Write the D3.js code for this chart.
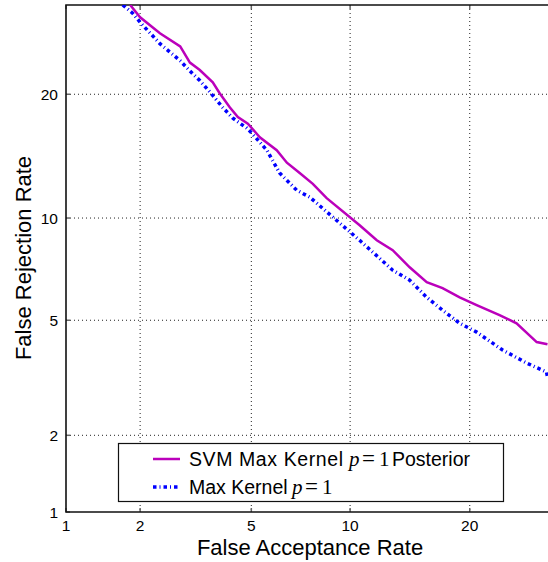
<html>
<head>
<script src="https://d3js.org/d3.v7.min.js"></script>
<style>
  body { margin: 0; padding: 0; background: #fff; }
  svg { display: block; font-family: "Liberation Sans", Arial, sans-serif; }
</style>
</head>
<body>
<div id="chart"></div>
<script>
// DET curve, both axes in percent on a normal-deviate scale
const ticks = [1, 2, 5, 10, 20];
const tickLabels = ["1", "2", "5", "10", "20"];

// SVM Max Kernel p=1 Posterior
const farSvm = [1.83, 2.0, 2.38, 2.83, 3.07, 3.33, 3.70, 3.91, 4.24, 4.51, 4.87, 5.33, 6.04, 6.50, 7.12, 7.80, 8.57, 10.63, 11.83, 13.03, 14.40, 15.87, 17.32, 18.98, 20.72, 23.21, 25.16, 27.58, 28.92];
const frrSvm = [30.0, 28.5, 26.6, 25.1, 23.3, 22.5, 21.2, 20.1, 18.7, 17.8, 17.2, 16.0, 14.9, 13.9, 13.1, 12.3, 11.3, 9.56, 8.68, 8.14, 7.26, 6.56, 6.29, 5.90, 5.58, 5.19, 4.89, 4.25, 4.18];

// Max Kernel p=1
const farMk = [1.71, 1.87, 2.0, 2.38, 2.83, 3.14, 3.33, 3.62, 4.01, 4.34, 4.83, 5.02, 5.62, 6.17, 6.97, 7.64, 10.63, 13.03, 14.40, 15.87, 17.32, 18.98, 20.72, 23.55, 26.34, 28.80, 28.92];
const frrMk = [30.0, 29.0, 27.9, 25.4, 23.5, 22.1, 21.4, 20.2, 18.7, 17.7, 16.8, 16.35, 14.9, 13.1, 11.85, 11.36, 8.68, 7.12, 6.65, 5.90, 5.38, 4.89, 4.58, 4.0, 3.62, 3.37, 3.24];

const W = 548, H = 562;
const mLeft = 66, mRight = 548, mTop = 5, mBottom = 512;

// inverse of the normal CDF (Acklam)
function probit(p) {
  const a = [-39.69683028665376, 220.9460984245205, -275.9285104469687, 138.3577518672690, -30.66479806614716, 2.506628277459239];
  const b = [-54.47609879822406, 161.5858368580409, -155.6989798598866, 66.80131188771972, -13.28068155288572];
  const c = [-0.007784894002430293, -0.3223964580411365, -2.400758277161838, -2.549732539343734, 4.374664141464968, 2.938163982698783];
  const d = [0.007784695709041462, 0.3224671290700398, 2.445134137142996, 3.754408661907416];
  const pl = 0.02425;
  let q, r;
  if (p < pl) {
    q = Math.sqrt(-2 * Math.log(p));
    return (((((c[0]*q+c[1])*q+c[2])*q+c[3])*q+c[4])*q+c[5]) / ((((d[0]*q+d[1])*q+d[2])*q+d[3])*q+1);
  } else if (p <= 1 - pl) {
    q = p - 0.5; r = q * q;
    return (((((a[0]*r+a[1])*r+a[2])*r+a[3])*r+a[4])*r+a[5])*q / (((((b[0]*r+b[1])*r+b[2])*r+b[3])*r+b[4])*r+1);
  } else {
    q = Math.sqrt(-2 * Math.log(1 - p));
    return -(((((c[0]*q+c[1])*q+c[2])*q+c[3])*q+c[4])*q+c[5]) / ((((d[0]*q+d[1])*q+d[2])*q+d[3])*q+1);
  }
}

const zx = d3.scaleLinear().domain([probit(0.01), probit(0.30)]).range([mLeft, 556]);
const zy = d3.scaleLinear().domain([probit(0.01), probit(0.30)]).range([mBottom, mTop]);
const x = v => zx(probit(v / 100));
const y = v => zy(probit(v / 100));

const svg = d3.select("#chart").append("svg")
  .attr("width", W).attr("height", H);

svg.append("defs").append("clipPath").attr("id", "clip")
  .append("rect").attr("x", mLeft).attr("y", mTop)
  .attr("width", mRight - mLeft).attr("height", mBottom - mTop);

// grid
const grid = svg.append("g").attr("stroke", "#222").attr("stroke-width", 1)
  .attr("stroke-dasharray", "1,3");
ticks.slice(1).forEach(t => {
  grid.append("line").attr("x1", x(t)).attr("x2", x(t)).attr("y1", mTop).attr("y2", mBottom);
  grid.append("line").attr("x1", mLeft).attr("x2", mRight).attr("y1", y(t)).attr("y2", y(t));
});

// tick marks
const tk = svg.append("g").attr("stroke", "#666").attr("stroke-width", 1.5);
ticks.forEach(t => {
  tk.append("line").attr("x1", x(t)).attr("x2", x(t)).attr("y1", mBottom).attr("y2", mBottom - 4);
  tk.append("line").attr("x1", x(t)).attr("x2", x(t)).attr("y1", mTop).attr("y2", mTop + 4);
  tk.append("line").attr("x1", mLeft).attr("x2", mLeft + 4).attr("y1", y(t)).attr("y2", y(t));
});

// frame
svg.append("path")
  .attr("d", `M${mRight},${mTop}H${mLeft}V${mBottom}H${mRight}`)
  .attr("fill", "none").attr("stroke", "#111").attr("stroke-width", 1.6);

// tick labels
svg.append("g").selectAll("text").data(ticks).join("text")
  .attr("x", d => x(d)).attr("y", 531)
  .attr("text-anchor", "middle").attr("font-size", 15.5)
  .text((d, i) => tickLabels[i]);
svg.append("g").selectAll("text").data(ticks).join("text")
  .attr("x", 58).attr("y", d => y(d) + 5.5)
  .attr("text-anchor", "end").attr("font-size", 15.5)
  .text((d, i) => tickLabels[i]);

// axis titles
svg.append("text").attr("x", 310).attr("y", 555)
  .attr("text-anchor", "middle").attr("font-size", 22)
  .text("False Acceptance Rate");
svg.append("text").attr("transform", "translate(31,258) rotate(-90)")
  .attr("text-anchor", "middle").attr("font-size", 22)
  .text("False Rejection Rate");

// curves
const line = d3.line().x(d => x(d[0])).y(d => y(d[1]));
const plot = svg.append("g").attr("clip-path", "url(#clip)");
plot.append("path").datum(d3.zip(farMk, frrMk))
  .attr("d", line).attr("fill", "none")
  .attr("stroke", "#0000ff").attr("stroke-width", 3.5)
  .attr("stroke-dasharray", "3.5,3,1,3");
plot.append("path").datum(d3.zip(farSvm, frrSvm))
  .attr("d", line).attr("fill", "none")
  .attr("stroke", "#bb00bb").attr("stroke-width", 2.5);

// legend
const lg = svg.append("g");
lg.append("rect").attr("x", 118.5).attr("y", 443.5).attr("width", 385).attr("height", 58)
  .attr("fill", "#fff").attr("stroke", "#111").attr("stroke-width", 1.2);
lg.append("line").attr("x1", 153).attr("x2", 180).attr("y1", 459).attr("y2", 459)
  .attr("stroke", "#bb00bb").attr("stroke-width", 2.5);
lg.append("line").attr("x1", 153).attr("x2", 180).attr("y1", 487).attr("y2", 487)
  .attr("stroke", "#0000ff").attr("stroke-width", 3.5).attr("stroke-dasharray", "3.5,3,1,3");

const serif = "'Liberation Serif', serif";
// "p = 1" set like TeX math, each glyph as its own text
function mathPart(py, px) {
  lg.append("text").attr("x", px).attr("y", py).attr("font-family", serif)
    .attr("font-size", 21).attr("font-style", "italic").text("p");
  lg.append("text").attr("x", px + 13).attr("y", py).attr("font-family", serif)
    .attr("font-size", 23).text("=");
  lg.append("text").attr("x", px + 30).attr("y", py).attr("font-family", serif)
    .attr("font-size", 21).text("1");
}

lg.append("text").attr("x", 189).attr("y", 466).attr("font-size", 19.5)
  .attr("textLength", 154).attr("lengthAdjust", "spacing").text("SVM Max Kernel");
mathPart(466, 349);
lg.append("text").attr("x", 392).attr("y", 466).attr("font-size", 19.5).text("Posterior");

lg.append("text").attr("x", 189).attr("y", 494).attr("font-size", 19.5).text("Max Kernel");
mathPart(494, 292);
</script>
</body>
</html>
